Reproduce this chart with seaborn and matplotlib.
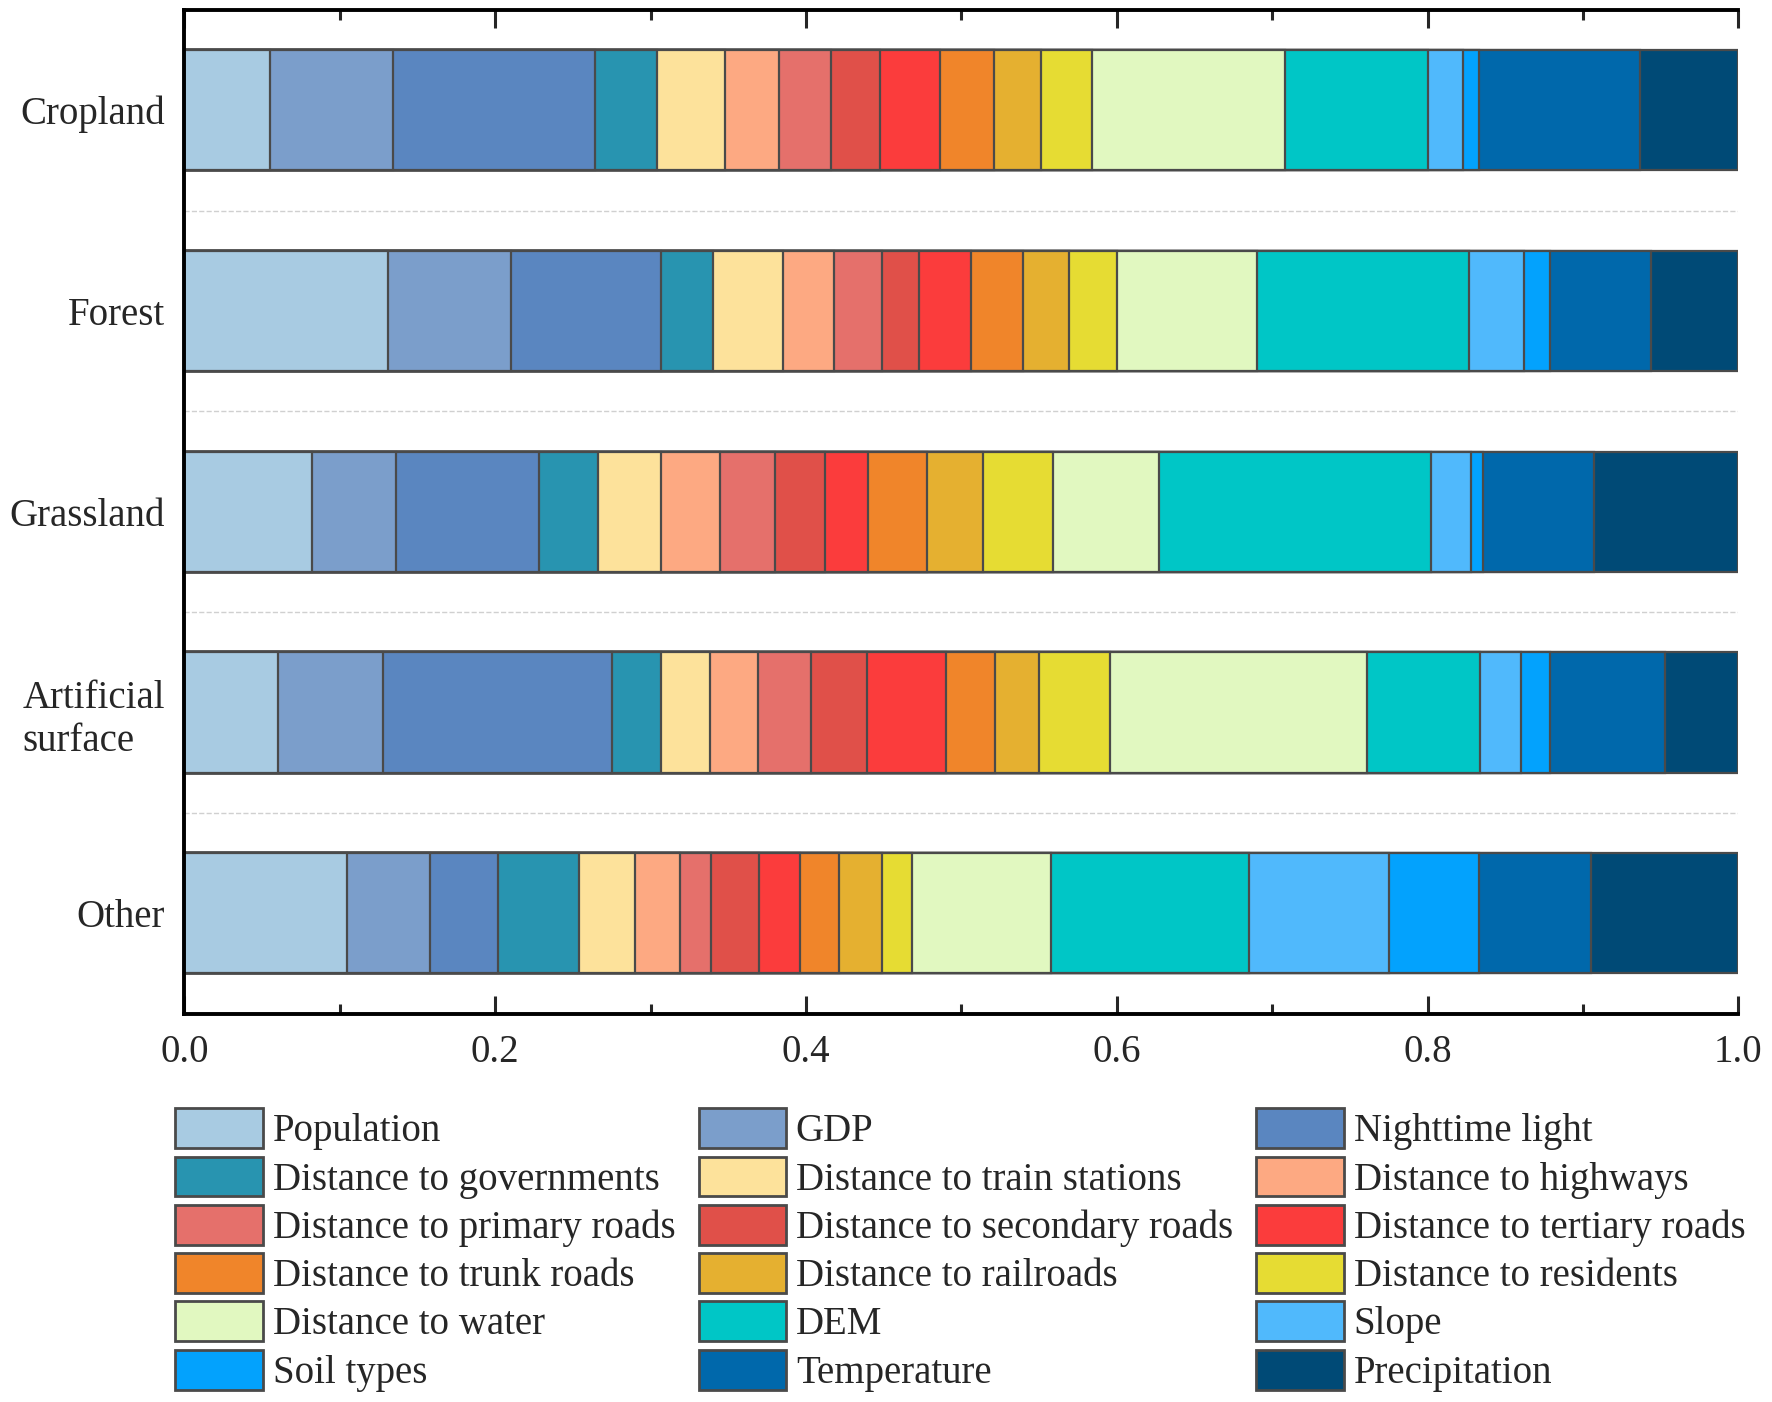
import pandas as pd
import numpy as np
import matplotlib
matplotlib.use("Agg")
import matplotlib.pyplot as plt
from matplotlib.patches import Patch
from matplotlib.ticker import MultipleLocator
import seaborn as sns

# ------------------------------------------------------
# Data: relative importance of each factor per land type
# ------------------------------------------------------
lands = ["Cropland", "Forest", "Grassland", "Artificial\nsurface", "Other"]

factors = ["Population", "GDP", "Nighttime light", "Distance to governments",
           "Distance to train stations", "Distance to highways",
           "Distance to primary roads", "Distance to secondary roads",
           "Distance to tertiary roads", "Distance to trunk roads",
           "Distance to railroads", "Distance to residents",
           "Distance to water", "DEM", "Slope", "Soil types",
           "Temperature", "Precipitation"]

colors = ["#a8cbe2", "#7b9ecb", "#5a86c0", "#2894b0", "#fde29b", "#fda982",
          "#e5706b", "#e05049", "#fb3c3c", "#f0852a", "#e5b030", "#e6dc33",
          "#e1f8c0", "#00c6c6", "#50b9fc", "#03a2fd", "#0068ab", "#004a76"]

cropland = [0.055, 0.079, 0.130, 0.040, 0.044, 0.035, 0.033, 0.032, 0.038,
            0.035, 0.030, 0.033, 0.124, 0.092, 0.023, 0.010, 0.104, 0.063]
forest = [0.131, 0.079, 0.097, 0.033, 0.045, 0.033, 0.031, 0.024, 0.033,
          0.034, 0.029, 0.031, 0.090, 0.137, 0.035, 0.017, 0.065, 0.056]
grassland = [0.082, 0.054, 0.092, 0.038, 0.041, 0.038, 0.035, 0.032, 0.028,
             0.038, 0.036, 0.045, 0.068, 0.175, 0.026, 0.008, 0.071, 0.093]
artificial = [0.060, 0.068, 0.147, 0.032, 0.031, 0.031, 0.034, 0.036, 0.051,
              0.032, 0.028, 0.046, 0.165, 0.073, 0.026, 0.019, 0.074, 0.047]
other = [0.105, 0.053, 0.044, 0.052, 0.036, 0.029, 0.020, 0.031, 0.026,
         0.025, 0.028, 0.019, 0.090, 0.127, 0.090, 0.058, 0.072, 0.095]

values = pd.DataFrame([cropland, forest, grassland, artificial, other],
                      index=lands, columns=factors)
cum = values.cumsum(axis=1)

# ------------------------------------------------------
# Style
# ------------------------------------------------------
sns.set_style("ticks")
plt.rcParams["font.family"] = ["Liberation Serif", "DejaVu Serif"]
plt.rcParams["font.size"] = 28

fig = plt.figure(figsize=(17.72, 14.02), dpi=100)
ax = fig.add_axes([0.104, 0.277, 0.877, 0.716])

# stacked bars: draw cumulative totals from last factor to first
for f, c in reversed(list(zip(factors, colors))):
    d = pd.DataFrame({"land": lands, "value": cum[f].values})
    sns.barplot(data=d, x="value", y="land", order=lands, color=c,
                edgecolor="#4a4a4a", linewidth=1.6, width=0.6,
                errorbar=None, saturation=1, ax=ax)

for yy in [0.5, 1.5, 2.5, 3.5]:
    ax.axhline(yy, color="#d0d0d0", ls="--", lw=1, zorder=0)

ax.set_xlim(0, 1.0)
ax.set_ylim(4.5, -0.5)
ax.set_xlabel("")
ax.set_ylabel("")
ax.xaxis.set_major_locator(MultipleLocator(0.2))
ax.xaxis.set_minor_locator(MultipleLocator(0.1))
ax.xaxis.set_major_formatter(matplotlib.ticker.FormatStrFormatter("%.1f"))

ax.spines["right"].set_visible(False)
for s in ["left", "top", "bottom"]:
    ax.spines[s].set_linewidth(2.8)
    ax.spines[s].set_color("black")

ax.tick_params(axis="x", which="major", direction="in", top=True,
               length=13, width=2.2, pad=15, labelsize=28)
ax.tick_params(axis="x", which="minor", direction="in", top=True,
               length=7, width=2.2)
ax.tick_params(axis="y", length=0, pad=14, labelsize=28)
for lab in ax.get_yticklabels():
    lab.set_multialignment("left")

# legend laid out row by row in three columns
handles = [Patch(facecolor=c, edgecolor="#4a4a4a", linewidth=2, label=f)
           for f, c in zip(factors, colors)]
order = list(range(0, 18, 3)) + list(range(1, 18, 3)) + list(range(2, 18, 3))
fig.legend(handles=[handles[i] for i in order], ncol=3, loc="upper left",
           bbox_to_anchor=(0.099, 0.2095), frameon=False, fontsize=28,
           borderpad=0, borderaxespad=0, handlelength=2.25, handleheight=1.2,
           handletextpad=0.25, labelspacing=0.16, columnspacing=0.6)

fig.savefig("out.png", dpi=100)
